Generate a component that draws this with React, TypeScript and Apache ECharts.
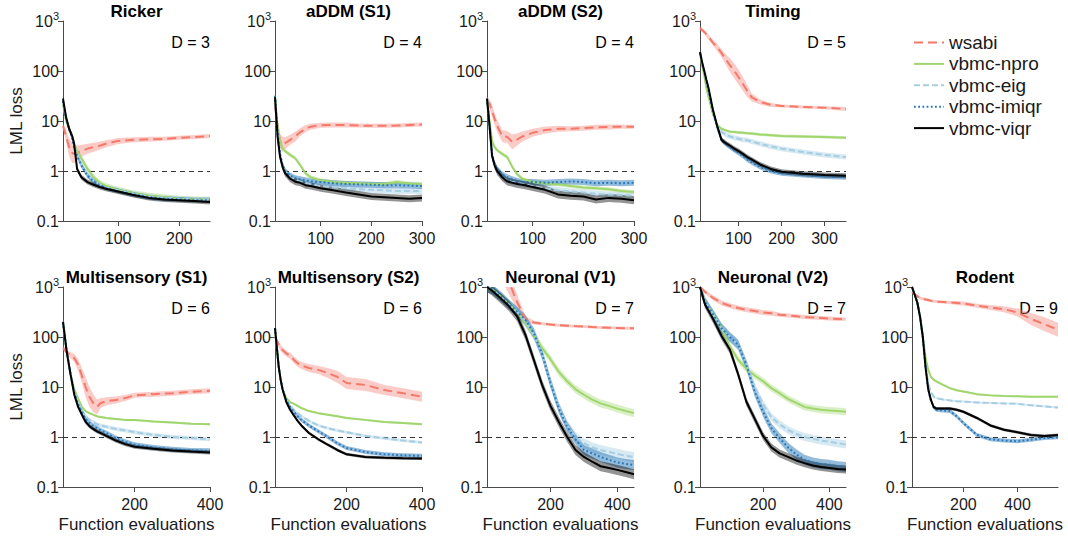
import React, { useEffect, useRef } from "react";
import * as echarts from "echarts";

// ---------------- data ----------------
const SERIES_NAMES = ["wsabi", "vbmc-npro", "vbmc-eig", "vbmc-imiqr", "vbmc-viqr"];
const PANEL_TITLES = ["Ricker", "aDDM (S1)", "aDDM (S2)", "Timing", "Multisensory (S1)", "Multisensory (S2)", "Neuronal (V1)", "Neuronal (V2)", "Rodent"];
const PANEL_DIMS = ["D = 3", "D = 4", "D = 4", "D = 5", "D = 6", "D = 6", "D = 7", "D = 7", "D = 9"];
const X_MIN = [10, 10, 10, 10, 10, 10, 10, 10, 10];
const X_MAX = [250, 300, 300, 350, 400, 400, 450, 450, 550];
const X_TICKS = [[100, 200], [100, 200, 300], [100, 200, 300], [100, 200, 300], [200, 400], [200, 400], [200, 400], [200, 400], [200, 400]];

// Ricker
const rickerX = [10, 15, 20, 25, 28, 33, 40, 50, 60, 70, 80, 100, 125, 150, 175, 200, 225, 250];
const rickerWsabi = [8, 5, 3, 2.3, 2.2, 2.3, 2.5, 2.8, 3, 3.2, 3.5, 4, 4.2, 4.3, 4.4, 4.6, 4.8, 5];
const rickerNpro = [22, 10, 7, 5, 3.5, 2.5, 1.8, 1.1, 0.75, 0.58, 0.5, 0.42, 0.36, 0.32, 0.3, 0.28, 0.27, 0.27];
const rickerEig = [25, 11, 7, 4.5, 3.2, 2.2, 1.4, 0.85, 0.65, 0.54, 0.47, 0.41, 0.35, 0.31, 0.29, 0.28, 0.27, 0.27];
const rickerImiqr = [25, 11, 7, 4.5, 3, 2, 1.3, 0.8, 0.62, 0.52, 0.46, 0.4, 0.34, 0.3, 0.28, 0.27, 0.26, 0.26];
const rickerViqr = [28, 12, 7, 5, 3.6, 1.1, 0.75, 0.6, 0.53, 0.48, 0.44, 0.39, 0.33, 0.29, 0.27, 0.26, 0.25, 0.24];
const rickerWsabiBand = [0.06, 0.12, 0.18, 0.2, 0.18, 0.15, 0.12, 0.1, 0.09, 0.08, 0.07, 0.06, 0.05, 0.05, 0.04, 0.04, 0.04, 0.04];
const rickerBand = [0.06, 0.05, 0.05, 0.05];

// aDDM (S1)
const addm1X = [10, 15, 20, 25, 30, 40, 50, 60, 70, 80, 100, 125, 150, 175, 200, 225, 250, 275, 300];
const addm1Wsabi = [20, 8, 4, 3.4, 3.6, 4.2, 4.9, 6, 7, 7.7, 8.2, 8.3, 8.3, 8.1, 8, 8, 8.1, 8.3, 8.5];
const addm1Npro = [30, 8, 4, 2.8, 2.5, 2.1, 1.8, 1.3, 0.9, 0.75, 0.65, 0.6, 0.58, 0.57, 0.55, 0.55, 0.6, 0.56, 0.55];
const addm1Eig = [30, 5, 2, 1.3, 1, 0.78, 0.68, 0.62, 0.58, 0.55, 0.5, 0.47, 0.45, 0.43, 0.42, 0.41, 0.4, 0.4, 0.4];
const addm1Imiqr = [32, 6, 2.2, 1.3, 1, 0.8, 0.72, 0.68, 0.65, 0.62, 0.6, 0.57, 0.55, 0.54, 0.53, 0.52, 0.52, 0.51, 0.5];
const addm1Viqr = [30, 5, 1.9, 1.2, 0.9, 0.7, 0.61, 0.58, 0.52, 0.5, 0.45, 0.41, 0.37, 0.34, 0.31, 0.3, 0.29, 0.28, 0.29];
const addm1WsabiBand = [0.1, 0.15, 0.15, 0.15, 0.12, 0.1, 0.1, 0.08, 0.07, 0.06, 0.05, 0.05, 0.05, 0.04, 0.04, 0.04, 0.04, 0.04, 0.04];
const addm1Band = [0.04, 0.06, 0.06, 0.07];

// aDDM (S2)
const addm2X = [10, 15, 20, 25, 30, 40, 50, 60, 70, 80, 100, 125, 150, 175, 200, 225, 250, 275, 300];
const addm2Wsabi = [26, 22, 16, 11, 8, 5, 4.8, 3.8, 4.3, 4.9, 5.8, 6.6, 7, 7, 7.2, 7.5, 7.6, 7.7, 7.7];
const addm2Npro = [28, 10, 4, 3, 2.6, 2.2, 1.9, 1.2, 0.85, 0.7, 0.6, 0.56, 0.54, 0.5, 0.47, 0.45, 0.43, 0.4, 0.38];
const addm2Eig = [28, 8, 2, 1.3, 1, 0.75, 0.65, 0.6, 0.58, 0.55, 0.5, 0.45, 0.41, 0.39, 0.37, 0.35, 0.34, 0.33, 0.32];
const addm2Imiqr = [28, 8, 2.2, 1.4, 1.1, 0.85, 0.75, 0.68, 0.63, 0.6, 0.6, 0.58, 0.6, 0.62, 0.6, 0.57, 0.58, 0.57, 0.58];
const addm2Viqr = [28, 8, 2, 1.3, 1, 0.75, 0.62, 0.58, 0.55, 0.53, 0.48, 0.42, 0.34, 0.32, 0.31, 0.27, 0.29, 0.28, 0.26];
const addm2WsabiBand = [0.08, 0.1, 0.12, 0.12, 0.12, 0.12, 0.12, 0.15, 0.12, 0.1, 0.08, 0.07, 0.06, 0.05, 0.05, 0.05, 0.05, 0.04, 0.04];
const addm2Band = [0.04, 0.06, 0.06, 0.08];

// Timing
const timingX = [10, 15, 20, 25, 30, 40, 50, 60, 70, 80, 90, 100, 110, 120, 130, 150, 175, 200, 250, 300, 350];
const timingWsabi = [720, 660, 600, 540, 480, 370, 300, 230, 170, 130, 100, 75, 55, 40, 30, 24, 21, 20, 19, 18.5, 17.4];
const timingNpro = [225, 130, 80, 45, 30, 14, 8.3, 7, 6.5, 6.1, 6, 5.9, 5.8, 5.7, 5.6, 5.4, 5.2, 5, 4.9, 4.8, 4.6];
const timingEig = [230, 140, 95, 60, 40, 15, 7.5, 6, 5.4, 4.9, 4.6, 4.4, 4.2, 4.1, 3.9, 3.5, 3.1, 2.8, 2.4, 2.1, 1.9];
const timingImiqr = [230, 140, 95, 60, 40, 15, 7.5, 4.2, 3.5, 3, 2.6, 2.3, 2, 1.7, 1.5, 1.2, 1, 0.9, 0.83, 0.78, 0.75];
const timingViqr = [240, 150, 100, 66, 45, 17, 8, 4.2, 3.6, 3.2, 2.8, 2.5, 2.2, 1.9, 1.7, 1.35, 1.1, 0.97, 0.88, 0.83, 0.8];
const timingWsabiBand = [0.04, 0.04, 0.04, 0.05, 0.05, 0.06, 0.07, 0.08, 0.1, 0.14, 0.15, 0.15, 0.14, 0.12, 0.08, 0.05, 0.04, 0.03, 0.03, 0.03, 0.04];
const timingBand = [0.03, 0.05, 0.05, 0.05];

// Multisensory (S1)
const ms1X = [10, 15, 20, 25, 30, 40, 50, 60, 70, 80, 90, 100, 110, 125, 150, 175, 200, 250, 300, 350, 400];
const ms1Wsabi = [60, 55, 50, 46, 43, 38, 28, 17, 10, 6.4, 4.8, 4, 4.8, 5.2, 5.5, 6, 6.8, 7.2, 7.5, 8, 8.4];
const ms1Npro = [200, 100, 50, 30, 18, 9, 6, 4, 3.3, 3, 2.8, 2.6, 2.5, 2.4, 2.3, 2.2, 2.2, 2.05, 1.95, 1.85, 1.8];
const ms1Eig = [200, 100, 50, 30, 18, 8, 5, 3.5, 2.6, 2.2, 2, 1.8, 1.7, 1.6, 1.45, 1.35, 1.25, 1.1, 1, 0.95, 0.9];
const ms1Imiqr = [200, 100, 50, 30, 18, 7.5, 4.5, 3.2, 2.3, 1.9, 1.65, 1.5, 1.35, 1.2, 0.95, 0.8, 0.7, 0.62, 0.57, 0.54, 0.53];
const ms1Viqr = [200, 100, 50, 30, 18, 7, 4, 2.8, 2, 1.65, 1.45, 1.3, 1.2, 1.05, 0.85, 0.72, 0.64, 0.58, 0.54, 0.51, 0.49];
const ms1WsabiBand = [0.05, 0.05, 0.05, 0.05, 0.06, 0.08, 0.12, 0.15, 0.2, 0.2, 0.18, 0.15, 0.1, 0.08, 0.07, 0.06, 0.05, 0.05, 0.05, 0.05, 0.05];
const ms1Band = [0.02, 0.04, 0.05, 0.04];

// Multisensory (S2)
const ms2X = [10, 15, 20, 25, 30, 40, 50, 60, 70, 80, 100, 125, 150, 175, 200, 250, 300, 350, 400];
const ms2Wsabi = [100, 85, 70, 60, 55, 47, 42, 35, 30, 27, 24, 22, 19, 16, 12, 11, 8.7, 7.5, 6.4];
const ms2Npro = [150, 60, 25, 14, 9, 6, 5, 4.6, 4.2, 3.8, 3.3, 3, 2.8, 2.6, 2.4, 2.2, 2, 1.9, 1.8];
const ms2Eig = [150, 60, 25, 14, 9, 5.5, 4.2, 3.5, 3, 2.6, 2.1, 1.7, 1.5, 1.35, 1.25, 1.05, 0.94, 0.85, 0.78];
const ms2Imiqr = [150, 60, 25, 14, 9, 5.5, 4, 3.2, 2.6, 2.2, 1.7, 1.3, 1, 0.75, 0.6, 0.5, 0.45, 0.43, 0.42];
const ms2Viqr = [150, 60, 25, 14, 9, 5, 3.5, 2.7, 2.1, 1.7, 1.2, 0.9, 0.7, 0.55, 0.45, 0.4, 0.385, 0.375, 0.37];
const ms2WsabiBand = [0.05, 0.05, 0.06, 0.06, 0.06, 0.06, 0.06, 0.07, 0.07, 0.07, 0.08, 0.08, 0.1, 0.12, 0.12, 0.12, 0.1, 0.1, 0.1];
const ms2Band = [0.02, 0.03, 0.04, 0.03];

// Neuronal (V1)
const v1X = [10, 25, 50, 75, 100, 125, 150, 175, 200, 225, 250, 275, 300, 325, 350, 375, 400, 425, 450];
const v1Wsabi = [20000, 8000, 3000, 1300, 500, 230, 195, 185, 178, 172, 168, 165, 162, 158, 155, 153, 152, 150, 150];
const v1Npro = [1000, 900, 650, 450, 320, 190, 110, 60, 36, 20, 13, 9, 7, 5.6, 4.7, 4.2, 3.7, 3.3, 3];
const v1Eig = [1000, 900, 650, 450, 320, 210, 110, 45, 13, 4, 1.7, 1, 0.75, 0.62, 0.55, 0.5, 0.46, 0.42, 0.4];
const v1Imiqr = [1000, 900, 650, 450, 320, 220, 120, 45, 12, 3.7, 1.6, 0.9, 0.55, 0.47, 0.4, 0.35, 0.31, 0.29, 0.275];
const v1Viqr = [1000, 850, 600, 420, 260, 110, 35, 11, 4.2, 2, 1, 0.55, 0.4, 0.32, 0.26, 0.24, 0.22, 0.2, 0.18];
const v1WsabiBand = [0.3, 0.3, 0.3, 0.25, 0.15, 0.06, 0.04, 0.03, 0.03, 0.03, 0.03, 0.03, 0.03, 0.03, 0.03, 0.03, 0.03, 0.03, 0.03];
const v1Band = [0.08, 0.1, 0.1, 0.1];

// Neuronal (V2)
const v2X = [10, 25, 50, 75, 100, 125, 150, 175, 200, 225, 250, 275, 300, 325, 350, 375, 400, 425, 450];
const v2Wsabi = [1000, 800, 600, 480, 420, 380, 350, 330, 310, 300, 280, 270, 260, 250, 245, 240, 235, 230, 226];
const v2Npro = [1000, 500, 280, 150, 65, 35, 23, 17, 13, 9.5, 7.5, 5.8, 4.8, 4, 3.7, 3.5, 3.4, 3.3, 3.2];
const v2Eig = [1000, 500, 280, 150, 100, 70, 30, 10, 4.5, 2.5, 1.8, 1.38, 1.15, 1, 0.92, 0.85, 0.8, 0.75, 0.71];
const v2Imiqr = [1000, 500, 280, 150, 100, 70, 27, 8, 3.2, 1.5, 0.95, 0.62, 0.45, 0.35, 0.31, 0.29, 0.28, 0.26, 0.25];
const v2Viqr = [1000, 450, 225, 105, 56, 18, 5, 2.3, 1.05, 0.62, 0.47, 0.4, 0.34, 0.3, 0.27, 0.25, 0.24, 0.23, 0.225];
const v2WsabiBand = [0.03, 0.04, 0.05, 0.05, 0.05, 0.05, 0.05, 0.05, 0.05, 0.05, 0.04, 0.04, 0.04, 0.04, 0.04, 0.04, 0.04, 0.04, 0.03];
const v2Band = [0.07, 0.08, 0.1, 0.08];

// Rodent
const rodentX = [10, 20, 30, 40, 50, 60, 70, 80, 90, 100, 125, 150, 175, 200, 250, 300, 350, 400, 450, 500, 550];
const rodentWsabi = [800, 720, 650, 600, 580, 560, 550, 530, 520, 510, 500, 490, 480, 470, 420, 390, 360, 310, 230, 180, 140];
const rodentNpro = [1000, 700, 480, 250, 100, 40, 22, 16, 14, 13, 11, 9.5, 8.6, 8.1, 7.2, 6.8, 6.6, 6.5, 6.4, 6.4, 6.4];
const rodentEig = [1000, 700, 480, 250, 100, 28, 12, 8, 6.4, 6, 5.6, 5.4, 5.2, 5.1, 4.9, 4.8, 4.7, 4.6, 4.3, 4.1, 3.9];
const rodentImiqr = [1000, 700, 480, 250, 100, 25, 9, 5.3, 3.9, 3.5, 3.4, 3.3, 2.6, 1.9, 1.1, 0.9, 0.85, 0.82, 0.88, 0.95, 0.99];
const rodentViqr = [1000, 700, 480, 250, 100, 25, 9, 5.5, 4, 3.7, 3.7, 3.7, 3.5, 3.2, 2.4, 1.7, 1.4, 1.25, 1.1, 1.05, 1.1];
const rodentWsabiBand = [0.03, 0.03, 0.03, 0.03, 0.03, 0.03, 0.03, 0.03, 0.03, 0.03, 0.03, 0.03, 0.04, 0.04, 0.04, 0.05, 0.06, 0.08, 0.12, 0.14, 0.14];
const rodentBand = [0.02, 0.02, 0.04, 0.03];

const PANEL_X = [rickerX, addm1X, addm2X, timingX, ms1X, ms2X, v1X, v2X, rodentX];
const PANEL_Y = [
  [rickerWsabi, rickerNpro, rickerEig, rickerImiqr, rickerViqr],
  [addm1Wsabi, addm1Npro, addm1Eig, addm1Imiqr, addm1Viqr],
  [addm2Wsabi, addm2Npro, addm2Eig, addm2Imiqr, addm2Viqr],
  [timingWsabi, timingNpro, timingEig, timingImiqr, timingViqr],
  [ms1Wsabi, ms1Npro, ms1Eig, ms1Imiqr, ms1Viqr],
  [ms2Wsabi, ms2Npro, ms2Eig, ms2Imiqr, ms2Viqr],
  [v1Wsabi, v1Npro, v1Eig, v1Imiqr, v1Viqr],
  [v2Wsabi, v2Npro, v2Eig, v2Imiqr, v2Viqr],
  [rodentWsabi, rodentNpro, rodentEig, rodentImiqr, rodentViqr],
];
const PANEL_WSABI_BAND = [rickerWsabiBand, addm1WsabiBand, addm2WsabiBand, timingWsabiBand, ms1WsabiBand, ms2WsabiBand, v1WsabiBand, v2WsabiBand, rodentWsabiBand];
const PANEL_BAND = [rickerBand, addm1Band, addm2Band, timingBand, ms1Band, ms2Band, v1Band, v2Band, rodentBand];

// ---------------- layout & style ----------------
const GRID_LEFT = [63, 275, 487, 700, 63, 275, 487, 700, 912];
const GRID_TOP = [21, 21, 21, 21, 287, 287, 287, 287, 287];
const GRID_W = [147, 147, 147, 146, 147, 147, 147, 146, 146];
const GRID_H = 200;

const LINE_COLORS = ["#f4796b", "#a1d66f", "#a6cee3", "#2878b8", "#000000"];
const BAND_COLORS = ["rgba(244,121,107,0.38)", "rgba(161,214,111,0.4)", "rgba(166,206,227,0.45)", "rgba(40,120,184,0.5)", "rgba(0,0,0,0.42)"];
const LINE_DASH: any[] = [[9, 5], "solid", [6, 3], [1.8, 2.4], "solid"];
const FONT = "'Liberation Sans', Arial, Helvetica, sans-serif";
const AXIS_COLOR = "#4a4a4a";
const TEXT_COLOR = "#1a1a1a";

function buildOption() {
  const grid: any[] = [];
  const xAxis: any[] = [];
  const yAxis: any[] = [];
  const series: any[] = [];
  const graphic: any[] = [];

  for (let p = 0; p < 9; p++) {
    grid.push({ left: GRID_LEFT[p], top: GRID_TOP[p], width: GRID_W[p], height: GRID_H, containLabel: false });
    const bottomRow = p >= 4;
    xAxis.push({
      type: "value",
      gridIndex: p,
      min: X_MIN[p],
      max: X_MAX[p],
      splitLine: { show: false },
      axisLine: { show: true, lineStyle: { color: AXIS_COLOR, width: 1 } },
      axisTick: { show: true, length: 5, lineStyle: { color: AXIS_COLOR }, customValues: X_TICKS[p] },
      axisLabel: { show: true, customValues: X_TICKS[p], fontSize: 16, color: TEXT_COLOR, fontFamily: FONT, margin: 9 },
      name: bottomRow ? "Function evaluations" : "",
      nameLocation: "middle",
      nameGap: 29,
      nameTextStyle: { fontSize: 17, color: TEXT_COLOR, fontFamily: FONT, verticalAlign: "top" },
    });
    const firstCol = p === 0 || p === 4;
    yAxis.push({
      type: "log",
      logBase: 10,
      gridIndex: p,
      min: 0.1,
      max: 1000,
      splitNumber: 4,
      splitLine: { show: false },
      axisLine: { show: true, lineStyle: { color: AXIS_COLOR, width: 1 } },
      axisTick: { show: true, length: 5, lineStyle: { color: AXIS_COLOR } },
      axisLabel: {
        show: true,
        margin: 4,
        fontSize: 16,
        color: TEXT_COLOR,
        fontFamily: FONT,
        formatter: (v: number) => {
          const e = Math.round(Math.log10(v));
          if (e >= 3) return "{n|10}{s|" + e + "}";
          if (e < 0) return "{n|0.1}";
          return "{n|" + String(Math.round(v)) + "}";
        },
        rich: {
          n: { fontSize: 16, color: TEXT_COLOR, fontFamily: FONT },
          s: { fontSize: 11, color: TEXT_COLOR, fontFamily: FONT, padding: [0, 0, 10, 0] },
        },
      },
      name: firstCol ? "LML loss" : "",
      nameLocation: "middle",
      nameGap: 38,
      nameTextStyle: { fontSize: 17, color: TEXT_COLOR, fontFamily: FONT },
    });

    const xs = PANEL_X[p];
    // bands
    for (let s = 0; s < 5; s++) {
      const med = PANEL_Y[p][s];
      const bw = s === 0 ? PANEL_WSABI_BAND[p] : null;
      const lo: number[] = [];
      const hi: number[] = [];
      for (let i = 0; i < xs.length; i++) {
        const w = bw ? bw[i] : PANEL_BAND[p][s - 1];
        const f = Math.pow(10, w);
        lo.push(med[i] / f);
        hi.push(med[i] * f);
      }
      const color = BAND_COLORS[s];
      series.push({
        type: "custom",
        name: SERIES_NAMES[s] + " band",
        xAxisIndex: p,
        yAxisIndex: p,
        clip: true,
        silent: true,
        z: 1,
        data: [[xs[0], med[0]]],
        encode: { x: 0, y: 1 },
        renderItem: (_params: any, api: any) => {
          const pts: number[][] = [];
          for (let i = 0; i < xs.length; i++) pts.push(api.coord([xs[i], hi[i]]));
          for (let i = xs.length - 1; i >= 0; i--) pts.push(api.coord([xs[i], lo[i]]));
          return { type: "polygon", shape: { points: pts }, style: { fill: color, stroke: null } };
        },
      });
    }
    // lines
    for (let s = 0; s < 5; s++) {
      const med = PANEL_Y[p][s];
      const line: any = {
        type: "line",
        name: SERIES_NAMES[s],
        xAxisIndex: p,
        yAxisIndex: p,
        symbol: "none",
        showSymbol: false,
        clip: true,
        z: 3 + s,
        data: xs.map((x, i) => [x, med[i]]),
        lineStyle: { color: LINE_COLORS[s], width: 2, type: LINE_DASH[s] },
        itemStyle: { color: LINE_COLORS[s] },
      };
      if (s === 4) {
        line.markLine = {
          silent: true,
          symbol: "none",
          label: { show: false },
          lineStyle: { color: "#333", width: 1, type: [5, 4] },
          data: [{ yAxis: 1 }],
          z: 2,
        };
      }
      series.push(line);
    }

    // title & dimension label
    graphic.push({
      type: "text",
      x: GRID_LEFT[p] + GRID_W[p] / 2,
      y: GRID_TOP[p] - 10,
      style: { text: PANEL_TITLES[p], font: "bold 17px " + FONT, fill: "#000", align: "center", verticalAlign: "middle" },
    });
    graphic.push({
      type: "text",
      x: GRID_LEFT[p] + GRID_W[p],
      y: GRID_TOP[p] + 21,
      style: { text: PANEL_DIMS[p], font: "16px " + FONT, fill: "#000", align: "right", verticalAlign: "middle" },
    });
  }

  return {
    animation: false,
    backgroundColor: "#ffffff",
    textStyle: { fontFamily: FONT },
    grid,
    xAxis,
    yAxis,
    series,
    graphic,
    legend: {
      data: SERIES_NAMES,
      orient: "vertical",
      left: 913,
      top: 33,
      padding: 0,
      itemWidth: 30,
      itemHeight: 14,
      itemGap: 2.4,
      selectedMode: false,
      itemStyle: { opacity: 0 },
      textStyle: { fontSize: 19, color: TEXT_COLOR, fontFamily: FONT },
    },
  };
}

export default function App() {
  const ref = useRef<HTMLDivElement>(null);
  useEffect(() => {
    document.body.style.margin = "0";
    if (!ref.current) return;
    const chart = echarts.init(ref.current, null, { renderer: "svg" });
    chart.setOption(buildOption() as any);
    return () => chart.dispose();
  }, []);
  return <div ref={ref} style={{ width: 1068, height: 541 }} />;
}
